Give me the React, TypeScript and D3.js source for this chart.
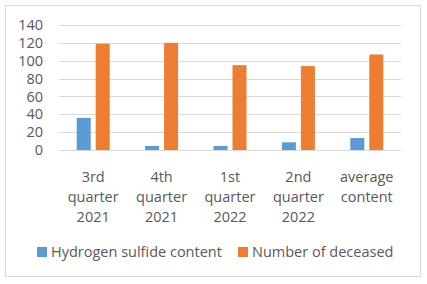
import React, { useEffect, useRef } from 'react'
import * as d3 from 'd3'

const categories = [
  ['3rd', 'quarter', '2021'],
  ['4th', 'quarter', '2021'],
  ['1st', 'quarter', '2022'],
  ['2nd', 'quarter', '2022'],
  ['average', 'content'],
]
const hydrogenSulfide = [36, 4.5, 4.5, 8.6, 13.4]
const deceased = [119, 120, 95, 94, 107]
const yTicks = [0, 20, 40, 60, 80, 100, 120, 140]
const seriesNames = ['Hydrogen sulfide content', 'Number of deceased']
const colors = ['#5B9BD5', '#ED7D31']

const W = 427
const H = 284

const App: React.FC = () => {
  const ref = useRef<SVGSVGElement>(null)

  useEffect(() => {
    document.body.style.margin = '0'
    const svg = d3.select(ref.current)
    svg.selectAll('*').remove()

    const margin = { top: 25, right: 26, bottom: 134, left: 59 }
    const width = W - margin.left - margin.right
    const height = H - margin.top - margin.bottom
    const font = '"Open Sans", sans-serif'
    const fontSize = '14.5px'
    const textColor = '#595959'

    svg
      .append('rect')
      .attr('x', 5.5)
      .attr('y', 5.5)
      .attr('width', 415)
      .attr('height', 271)
      .attr('fill', '#fff')
      .attr('stroke', '#d9d9d9')

    const keys = categories.map((c) => c.join(' '))
    const x = d3.scaleBand().domain(keys).range([0, width])
    const y = d3.scaleLinear().domain([0, 140]).range([height, 0])

    const g = svg
      .append('g')
      .attr('transform', `translate(${margin.left},${margin.top})`)

    // gridlines
    g.selectAll('.grid')
      .data(yTicks)
      .enter()
      .append('line')
      .attr('x1', 0)
      .attr('x2', width)
      .attr('y1', (d) => Math.round(y(d)) + 0.5)
      .attr('y2', (d) => Math.round(y(d)) + 0.5)
      .attr('stroke', '#d9d9d9')

    g.append('g')
      .call(d3.axisLeft(y).tickValues(yTicks).tickSize(0).tickPadding(16))
      .call((a) => a.select('.domain').remove())
      .call((a) =>
        a
          .selectAll('.tick text')
          .style('font-family', font)
          .style('font-size', fontSize)
          .style('fill', textColor),
      )

    const barW = 14
    const gap = 5
    const series = [hydrogenSulfide, deceased]
    series.forEach((vals, si) => {
      g.selectAll(`.bar${si}`)
        .data(vals)
        .enter()
        .append('rect')
        .attr(
          'x',
          (_, i) =>
            x(keys[i])! + x.bandwidth() / 2 - barW - gap / 2 + si * (barW + gap),
        )
        .attr('y', (d) => y(d))
        .attr('width', barW)
        .attr('height', (d) => height - y(d))
        .attr('fill', colors[si])
    })

    // category labels
    categories.forEach((lines, i) => {
      const cx = x(keys[i])! + x.bandwidth() / 2
      const t = g
        .append('text')
        .attr('x', cx)
        .attr('y', height + 31.5)
        .attr('text-anchor', 'middle')
        .style('font-family', font)
        .style('font-size', fontSize)
        .style('fill', textColor)
      lines.forEach((l, j) => {
        t.append('tspan')
          .attr('x', cx)
          .attr('dy', j === 0 ? 0 : 20)
          .text(l)
      })
    })

    // legend
    const legendX = [37, 238]
    seriesNames.forEach((name, i) => {
      svg
        .append('rect')
        .attr('x', legendX[i])
        .attr('y', 247)
        .attr('width', 10)
        .attr('height', 10)
        .attr('fill', colors[i])
      svg
        .append('text')
        .attr('x', legendX[i] + 14)
        .attr('y', 257)
        .style('font-family', font)
        .style('font-size', fontSize)
        .style('fill', textColor)
        .text(name)
    })
  }, [])

  return (
    <svg
      ref={ref}
      width={W}
      height={H}
      style={{ display: 'block', position: 'absolute', left: 0, top: 0 }}
    />
  )
}

export default App
